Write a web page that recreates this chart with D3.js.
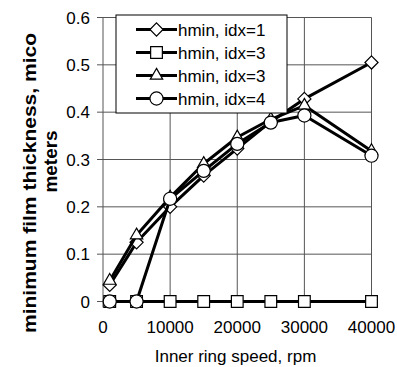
<!DOCTYPE html>
<html>
<head>
<meta charset="utf-8">
<script src="https://cdn.jsdelivr.net/npm/d3@7"></script>
<style>
  body { margin: 0; background: #fff; }
  text { font-family: Arial, "Liberation Sans", sans-serif; fill: #000; }
</style>
</head>
<body>
<div id="chart"></div>
<script>
// Data
var speeds = [1000, 5000, 10000, 15000, 20000, 25000, 30000, 40000];
var hminIdx1 = [0.035, 0.125, 0.2, 0.266, 0.323, 0.38, 0.428, 0.505];
var hminIdx3a = [0, 0, 0, 0, 0, 0, 0, 0];
var hminIdx3b = [0.044, 0.14, 0.22, 0.291, 0.347, 0.385, 0.414, 0.318];
var hminIdx4 = [0, 0, 0.217, 0.276, 0.333, 0.378, 0.393, 0.308];
var seriesNames = ["hmin, idx=1", "hmin, idx=3", "hmin, idx=3", "hmin, idx=4"];
var seriesSymbols = ["diamond", "square", "triangle", "circle"];
var xTicks = [0, 10000, 20000, 30000, 40000];
var yTicks = [0, 0.1, 0.2, 0.3, 0.4, 0.5, 0.6];

var W = 397, H = 367;
var margin = {top: 17.5, right: 25.5, bottom: 65.5, left: 103};
var width = W - margin.left - margin.right;
var height = H - margin.top - margin.bottom;

var svg = d3.select("#chart")
    .append("svg")
        .attr("width", W)
        .attr("height", H);

var g = svg.append("g")
    .attr("transform", "translate(" + margin.left + "," + margin.top + ")");

// Scales
var x = d3.scaleLinear().domain([0, 40000]).range([0, width]);
var y = d3.scaleLinear().domain([0, 0.6]).range([height, 0]);

// Gridlines (with the little tick stubs outside the plot)
g.append("g")
    .selectAll("line")
    .data(yTicks)
    .join("line")
        .attr("x1", -6)
        .attr("x2", width)
        .attr("y1", d => y(d))
        .attr("y2", d => y(d))
        .attr("stroke", "#555")
        .attr("stroke-width", 1);

g.append("g")
    .selectAll("line")
    .data(xTicks)
    .join("line")
        .attr("x1", d => x(d))
        .attr("x2", d => x(d))
        .attr("y1", 0)
        .attr("y2", height + 6)
        .attr("stroke", "#555")
        .attr("stroke-width", 1);

// Tick labels
g.append("g")
    .selectAll("text")
    .data(yTicks)
    .join("text")
        .attr("x", -13)
        .attr("y", d => y(d))
        .attr("dy", "0.36em")
        .attr("text-anchor", "end")
        .style("font-size", "17px")
        .text(d => d3.format("")(d));

g.append("g")
    .selectAll("text")
    .data(xTicks)
    .join("text")
        .attr("x", d => x(d))
        .attr("y", height + 31)
        .attr("text-anchor", "middle")
        .style("font-size", "17px")
        .text(d => d);

// Axis titles
svg.append("text")
    .attr("x", 235.5)
    .attr("y", 362)
    .attr("text-anchor", "middle")
    .style("font-size", "17px")
    .text("Inner ring speed, rpm");

svg.append("text")
    .attr("transform", "translate(36,183) rotate(-90)")
    .attr("text-anchor", "middle")
    .attr("textLength", 300)
    .attr("lengthAdjust", "spacingAndGlyphs")
    .style("font-size", "18px")
    .style("font-weight", "bold")
    .text("minimum film thickness, mico");

svg.append("text")
    .attr("transform", "translate(57,161.5) rotate(-90)")
    .attr("text-anchor", "middle")
    .attr("textLength", 62)
    .attr("lengthAdjust", "spacingAndGlyphs")
    .style("font-size", "18px")
    .style("font-weight", "bold")
    .text("meters");

// Series
var allSeries = [hminIdx1, hminIdx3a, hminIdx3b, hminIdx4];
var symbolTypes = {
    diamond: d3.symbolDiamond2,
    square: d3.symbolSquare2,
    triangle: d3.symbolTriangle2,
    circle: d3.symbolCircle
};
var symbolSizes = {diamond: 110, square: 175, triangle: 110, circle: 135};

function symbolPath(name) {
    return d3.symbol().type(symbolTypes[name]).size(symbolSizes[name])();
}

var line = d3.line()
    .x(d => x(d.x))
    .y(d => y(d.y));

allSeries.forEach(function(vals, i) {
    var pts = speeds.map((s, j) => ({x: s, y: vals[j]}));
    var sg = g.append("g");
    sg.append("path")
        .datum(pts)
        .attr("d", line)
        .attr("fill", "none")
        .attr("stroke", "#000")
        .attr("stroke-width", 3)
        .attr("stroke-linejoin", "round");
    sg.selectAll("path.mark")
        .data(pts)
        .join("path")
            .attr("class", "mark")
            .attr("transform", d => "translate(" + x(d.x) + "," + y(d.y) + ")")
            .attr("d", symbolPath(seriesSymbols[i]))
            .attr("fill", "#fff")
            .attr("stroke", "#000")
            .attr("stroke-width", 1.2);
});

// Legend
var legend = svg.append("g").attr("transform", "translate(116,15)");
legend.append("rect")
    .attr("width", 171)
    .attr("height", 98)
    .attr("fill", "#fff")
    .attr("stroke", "#000")
    .attr("stroke-width", 1);

var rows = legend.selectAll("g.row")
    .data(seriesNames)
    .join("g")
        .attr("class", "row")
        .attr("transform", (d, i) => "translate(0," + (14.5 + i * 23) + ")");

rows.append("line")
    .attr("x1", 20)
    .attr("x2", 61)
    .attr("stroke", "#000")
    .attr("stroke-width", 3);

rows.append("path")
    .attr("transform", "translate(40.5,0)")
    .attr("d", (d, i) => symbolPath(seriesSymbols[i]))
    .attr("fill", "#fff")
    .attr("stroke", "#000")
    .attr("stroke-width", 1.2);

rows.append("text")
    .attr("x", 62)
    .attr("dy", "0.36em")
    .style("font-size", "17px")
    .text(d => d);
</script>
</body>
</html>
